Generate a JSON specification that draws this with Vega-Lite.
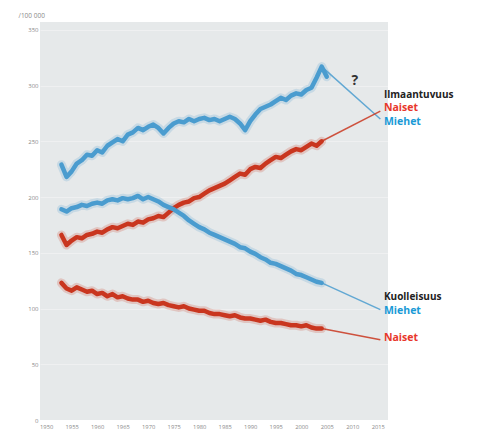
{
  "$schema": "https://vega.github.io/schema/vega-lite/v6.json",
  "width": 348,
  "height": 398,
  "autosize": {"type": "none"},
  "padding": {"left": 40, "top": 22, "right": 91, "bottom": 16},
  "background": "#ffffff",
  "config": {
    "view": {"fill": "#e6e9ea", "stroke": null},
    "font": "Open Sans",
    "axis": {"labelOverlap": false}
  },
  "datasets": {
    "main": [
      {"year":1953,"series":"MI","value":229},{"year":1954,"series":"MI","value":218},{"year":1955,"series":"MI","value":223},{"year":1956,"series":"MI","value":230},{"year":1957,"series":"MI","value":233},{"year":1958,"series":"MI","value":238},{"year":1959,"series":"MI","value":237},{"year":1960,"series":"MI","value":242},{"year":1961,"series":"MI","value":240},{"year":1962,"series":"MI","value":246},{"year":1963,"series":"MI","value":249},{"year":1964,"series":"MI","value":252},{"year":1965,"series":"MI","value":250},{"year":1966,"series":"MI","value":256},{"year":1967,"series":"MI","value":258},{"year":1968,"series":"MI","value":262},{"year":1969,"series":"MI","value":260},{"year":1970,"series":"MI","value":263},{"year":1971,"series":"MI","value":265},{"year":1972,"series":"MI","value":262},{"year":1973,"series":"MI","value":257},{"year":1974,"series":"MI","value":262},{"year":1975,"series":"MI","value":266},{"year":1976,"series":"MI","value":268},{"year":1977,"series":"MI","value":267},{"year":1978,"series":"MI","value":270},{"year":1979,"series":"MI","value":268},{"year":1980,"series":"MI","value":270},{"year":1981,"series":"MI","value":271},{"year":1982,"series":"MI","value":269},{"year":1983,"series":"MI","value":270},{"year":1984,"series":"MI","value":268},{"year":1985,"series":"MI","value":270},{"year":1986,"series":"MI","value":272},{"year":1987,"series":"MI","value":270},{"year":1988,"series":"MI","value":266},{"year":1989,"series":"MI","value":260},{"year":1990,"series":"MI","value":268},{"year":1991,"series":"MI","value":274},{"year":1992,"series":"MI","value":279},{"year":1993,"series":"MI","value":281},{"year":1994,"series":"MI","value":283},{"year":1995,"series":"MI","value":286},{"year":1996,"series":"MI","value":289},{"year":1997,"series":"MI","value":287},{"year":1998,"series":"MI","value":291},{"year":1999,"series":"MI","value":293},{"year":2000,"series":"MI","value":292},{"year":2001,"series":"MI","value":296},{"year":2002,"series":"MI","value":298},{"year":2003,"series":"MI","value":307},{"year":2004,"series":"MI","value":317},{"year":2005,"series":"MI","value":308},
      {"year":1953,"series":"NI","value":166},{"year":1954,"series":"NI","value":157},{"year":1955,"series":"NI","value":161},{"year":1956,"series":"NI","value":164},{"year":1957,"series":"NI","value":163},{"year":1958,"series":"NI","value":166},{"year":1959,"series":"NI","value":167},{"year":1960,"series":"NI","value":169},{"year":1961,"series":"NI","value":168},{"year":1962,"series":"NI","value":171},{"year":1963,"series":"NI","value":173},{"year":1964,"series":"NI","value":172},{"year":1965,"series":"NI","value":174},{"year":1966,"series":"NI","value":176},{"year":1967,"series":"NI","value":175},{"year":1968,"series":"NI","value":178},{"year":1969,"series":"NI","value":177},{"year":1970,"series":"NI","value":180},{"year":1971,"series":"NI","value":181},{"year":1972,"series":"NI","value":183},{"year":1973,"series":"NI","value":182},{"year":1974,"series":"NI","value":186},{"year":1975,"series":"NI","value":190},{"year":1976,"series":"NI","value":193},{"year":1977,"series":"NI","value":195},{"year":1978,"series":"NI","value":196},{"year":1979,"series":"NI","value":199},{"year":1980,"series":"NI","value":200},{"year":1981,"series":"NI","value":203},{"year":1982,"series":"NI","value":206},{"year":1983,"series":"NI","value":208},{"year":1984,"series":"NI","value":210},{"year":1985,"series":"NI","value":212},{"year":1986,"series":"NI","value":215},{"year":1987,"series":"NI","value":218},{"year":1988,"series":"NI","value":221},{"year":1989,"series":"NI","value":220},{"year":1990,"series":"NI","value":225},{"year":1991,"series":"NI","value":227},{"year":1992,"series":"NI","value":226},{"year":1993,"series":"NI","value":230},{"year":1994,"series":"NI","value":233},{"year":1995,"series":"NI","value":236},{"year":1996,"series":"NI","value":235},{"year":1997,"series":"NI","value":238},{"year":1998,"series":"NI","value":241},{"year":1999,"series":"NI","value":243},{"year":2000,"series":"NI","value":242},{"year":2001,"series":"NI","value":245},{"year":2002,"series":"NI","value":248},{"year":2003,"series":"NI","value":246},{"year":2004,"series":"NI","value":250},
      {"year":1953,"series":"MM","value":189},{"year":1954,"series":"MM","value":187},{"year":1955,"series":"MM","value":190},{"year":1956,"series":"MM","value":191},{"year":1957,"series":"MM","value":193},{"year":1958,"series":"MM","value":192},{"year":1959,"series":"MM","value":194},{"year":1960,"series":"MM","value":195},{"year":1961,"series":"MM","value":194},{"year":1962,"series":"MM","value":197},{"year":1963,"series":"MM","value":198},{"year":1964,"series":"MM","value":197},{"year":1965,"series":"MM","value":199},{"year":1966,"series":"MM","value":198},{"year":1967,"series":"MM","value":199},{"year":1968,"series":"MM","value":201},{"year":1969,"series":"MM","value":198},{"year":1970,"series":"MM","value":200},{"year":1971,"series":"MM","value":198},{"year":1972,"series":"MM","value":196},{"year":1973,"series":"MM","value":193},{"year":1974,"series":"MM","value":191},{"year":1975,"series":"MM","value":189},{"year":1976,"series":"MM","value":186},{"year":1977,"series":"MM","value":183},{"year":1978,"series":"MM","value":179},{"year":1979,"series":"MM","value":176},{"year":1980,"series":"MM","value":173},{"year":1981,"series":"MM","value":171},{"year":1982,"series":"MM","value":168},{"year":1983,"series":"MM","value":166},{"year":1984,"series":"MM","value":164},{"year":1985,"series":"MM","value":162},{"year":1986,"series":"MM","value":160},{"year":1987,"series":"MM","value":158},{"year":1988,"series":"MM","value":155},{"year":1989,"series":"MM","value":154},{"year":1990,"series":"MM","value":151},{"year":1991,"series":"MM","value":149},{"year":1992,"series":"MM","value":146},{"year":1993,"series":"MM","value":144},{"year":1994,"series":"MM","value":141},{"year":1995,"series":"MM","value":140},{"year":1996,"series":"MM","value":138},{"year":1997,"series":"MM","value":136},{"year":1998,"series":"MM","value":134},{"year":1999,"series":"MM","value":131},{"year":2000,"series":"MM","value":130},{"year":2001,"series":"MM","value":128},{"year":2002,"series":"MM","value":126},{"year":2003,"series":"MM","value":124},{"year":2004,"series":"MM","value":123},
      {"year":1953,"series":"NM","value":123},{"year":1954,"series":"NM","value":118},{"year":1955,"series":"NM","value":116},{"year":1956,"series":"NM","value":119},{"year":1957,"series":"NM","value":117},{"year":1958,"series":"NM","value":115},{"year":1959,"series":"NM","value":116},{"year":1960,"series":"NM","value":113},{"year":1961,"series":"NM","value":114},{"year":1962,"series":"NM","value":111},{"year":1963,"series":"NM","value":113},{"year":1964,"series":"NM","value":110},{"year":1965,"series":"NM","value":111},{"year":1966,"series":"NM","value":109},{"year":1967,"series":"NM","value":108},{"year":1968,"series":"NM","value":108},{"year":1969,"series":"NM","value":106},{"year":1970,"series":"NM","value":107},{"year":1971,"series":"NM","value":105},{"year":1972,"series":"NM","value":104},{"year":1973,"series":"NM","value":105},{"year":1974,"series":"NM","value":103},{"year":1975,"series":"NM","value":102},{"year":1976,"series":"NM","value":101},{"year":1977,"series":"NM","value":102},{"year":1978,"series":"NM","value":100},{"year":1979,"series":"NM","value":99},{"year":1980,"series":"NM","value":98},{"year":1981,"series":"NM","value":98},{"year":1982,"series":"NM","value":96},{"year":1983,"series":"NM","value":95},{"year":1984,"series":"NM","value":95},{"year":1985,"series":"NM","value":94},{"year":1986,"series":"NM","value":93},{"year":1987,"series":"NM","value":94},{"year":1988,"series":"NM","value":92},{"year":1989,"series":"NM","value":91},{"year":1990,"series":"NM","value":91},{"year":1991,"series":"NM","value":90},{"year":1992,"series":"NM","value":89},{"year":1993,"series":"NM","value":90},{"year":1994,"series":"NM","value":88},{"year":1995,"series":"NM","value":87},{"year":1996,"series":"NM","value":87},{"year":1997,"series":"NM","value":86},{"year":1998,"series":"NM","value":85},{"year":1999,"series":"NM","value":85},{"year":2000,"series":"NM","value":84},{"year":2001,"series":"NM","value":85},{"year":2002,"series":"NM","value":83},{"year":2003,"series":"NM","value":82},{"year":2004,"series":"NM","value":82}
    ],
    "ext": [
      {"year":2004,"series":"MI","value":317},{"year":2015.5,"series":"MI","value":270},
      {"year":2004,"series":"NI","value":250},{"year":2015.5,"series":"NI","value":277},
      {"year":2004,"series":"MM","value":123},{"year":2015.5,"series":"MM","value":99},
      {"year":2004,"series":"NM","value":82},{"year":2015.5,"series":"NM","value":72}
    ],
    "labels": [
      {"year":2016.2,"value":291.5,"label":"Ilmaantuvuus","kind":"otsikko"},
      {"year":2016.2,"value":279.5,"label":"Naiset","kind":"Naiset"},
      {"year":2016.2,"value":267.5,"label":"Miehet","kind":"Miehet"},
      {"year":2016.2,"value":110.5,"label":"Kuolleisuus","kind":"otsikko"},
      {"year":2016.2,"value":98,"label":"Miehet","kind":"Miehet"},
      {"year":2016.2,"value":74,"label":"Naiset","kind":"Naiset"}
    ],
    "q": [{"year":2010.5,"value":304,"label":"?"}]
  },
  "encoding": {
    "x": {"field": "year", "type": "quantitative", "scale": {"domain": [1948.8, 2017], "nice": false, "zero": false},
      "axis": {"values": [1950,1955,1960,1965,1970,1975,1980,1985,1990,1995,2000,2005,2010,2015], "tickCount": 14, "format": "d", "title": null, "grid": false, "ticks": false, "domain": false, "labelOverlap": false, "labelFlush": false, "labelFontSize": 5.8, "labelColor": "#8a8a8a", "labelPadding": 3}},
    "y": {"field": "value", "type": "quantitative", "scale": {"domain": [0, 357], "nice": false},
      "axis": {"values": [0,50,100,150,200,250,300,350], "title": "/100 000", "titleAngle": 0, "titleAlign": "left", "titleBaseline": "middle", "titleX": -22, "titleY": -7, "titleFontSize": 6.5, "titleFontWeight": "normal", "titleColor": "#8a8a8a", "grid": true, "gridColor": "#ffffff", "gridOpacity": 0.35, "ticks": false, "domain": false, "labelOverlap": false, "labelFontSize": 6, "labelColor": "#8a8a8a", "labelPadding": 2}}
  },
  "layer": [
    {
      "data": {"name": "main"},
      "mark": {"type": "line", "strokeWidth": 9, "opacity": 0.2, "strokeCap": "round", "strokeJoin": "round"},
      "encoding": {
        "color": {"field": "series", "type": "nominal", "scale": {"domain": ["MI","NI","MM","NM"], "range": ["#4a9ccf","#c9361f","#4a9ccf","#c9361f"]}, "legend": null},
        "detail": {"field": "series"}
      }
    },
    {
      "data": {"name": "main"},
      "mark": {"type": "line", "strokeWidth": 4.5, "strokeCap": "round", "strokeJoin": "round"},
      "encoding": {
        "color": {"field": "series", "type": "nominal", "legend": null},
        "detail": {"field": "series"}
      }
    },
    {
      "data": {"name": "ext"},
      "mark": {"type": "line", "strokeWidth": 1.5, "opacity": 0.85},
      "encoding": {
        "color": {"field": "series", "type": "nominal", "legend": null},
        "detail": {"field": "series"}
      }
    },
    {
      "data": {"name": "labels"},
      "transform": [{"filter": "datum.kind === 'otsikko'"}],
      "mark": {"type": "text", "align": "left", "baseline": "middle", "fontSize": 10, "fontWeight": "bold", "color": "#222222"},
      "encoding": {"text": {"field": "label"}}
    },
    {
      "data": {"name": "labels"},
      "transform": [{"filter": "datum.kind === 'Naiset'"}],
      "mark": {"type": "text", "align": "left", "baseline": "middle", "fontSize": 10.5, "fontWeight": "bold", "color": "#e8372b"},
      "encoding": {"text": {"field": "label"}}
    },
    {
      "data": {"name": "labels"},
      "transform": [{"filter": "datum.kind === 'Miehet'"}],
      "mark": {"type": "text", "align": "left", "baseline": "middle", "fontSize": 10.5, "fontWeight": "bold", "color": "#1a9ad6"},
      "encoding": {"text": {"field": "label"}}
    },
    {
      "data": {"name": "q"},
      "mark": {"type": "text", "align": "center", "baseline": "middle", "fontSize": 14, "fontWeight": "bold", "color": "#333333"},
      "encoding": {"text": {"field": "label"}}
    }
  ]
}
